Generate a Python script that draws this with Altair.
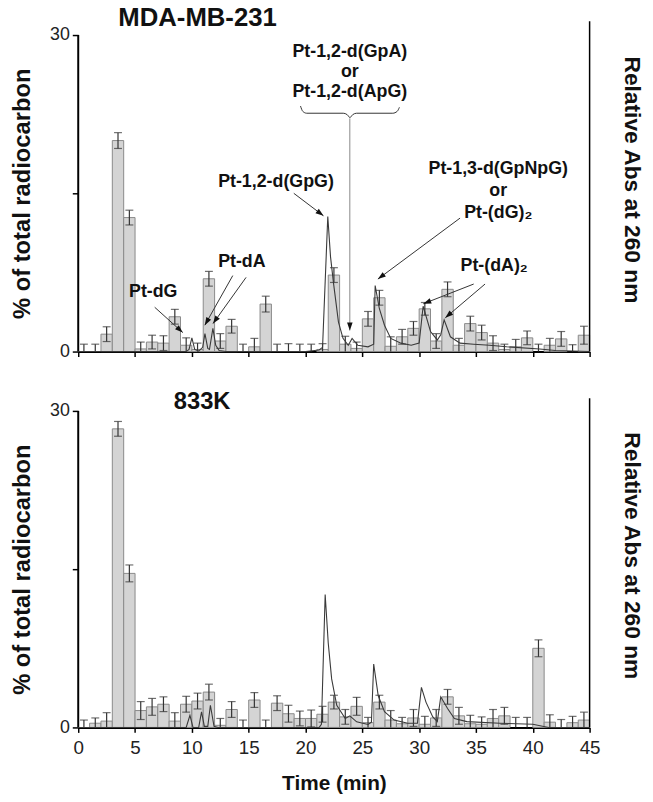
import math
import altair as alt
import pandas as pd

FONT = "Liberation Sans"
X_MAX = 45
Y_MAX = 30
W = 517
H = 320
PX_PER_MIN = W / X_MAX
PX_PER_UNIT = H / Y_MAX

# ---------------- data ----------------
bin_start = list(range(45))

mda_pct = [0, 0, 1.65, 20.0, 12.7, 0.25, 0.9, 0.8, 3.3, 0.6,
           0.2, 6.9, 1.0, 2.4, 0, 0.45, 4.5, 0, 0, 0,
           0, 0.2, 7.25, 0.7, 0.3, 3.1, 5.1, 0.5, 1.4, 2.2,
           4.05, 1.0, 5.9, 0.6, 2.65, 1.8, 0.8, 0.2, 0.45, 1.3,
           0, 0.6, 1.2, 0, 1.55]
mda_err = [0.7, 0.7, 0.7, 0.75, 0.7, 0.65, 0.65, 0.7, 0.7, 0.7,
           0.6, 0.7, 0.7, 0.65, 0.7, 0.8, 0.75, 0.7, 0.75, 0.7,
           0.7, 0.55, 0.7, 0.75, 0.6, 0.7, 0.7, 0.9, 0.7, 0.65,
           0.6, 0.7, 0.7, 0.65, 0.7, 0.7, 0.7, 0.5, 0.7, 0.65,
           0.7, 0.65, 0.7, 0.65, 0.85]

k833_pct = [0, 0.4, 0.6, 28.3, 14.6, 1.6, 1.95, 2.2, 0.6, 2.2,
            2.5, 3.35, 0.2, 1.7, 0, 2.6, 0, 2.3, 1.3, 0.85,
            0.85, 1.25, 2.4, 1.0, 2.0, 0.45, 2.4, 0.7, 0.35, 0.9,
            0.3, 0.9, 2.9, 1.1, 0.35, 0.3, 0.85, 1.1, 0, 0,
            7.5, 0.5, 0, 0.45, 0.7]
k833_err = [0.7, 0.5, 0.8, 0.7, 0.8, 0.85, 0.8, 0.7, 0.8, 0.75,
            0.75, 0.75, 0.65, 0.75, 0.7, 0.7, 0.7, 0.7, 0.8, 0.7,
            0.8, 0.75, 0.65, 0.7, 0.85, 0.5, 0.65, 0.9, 0.6, 0.8,
            0.75, 0.8, 0.7, 0.8, 0.8, 0.7, 0.85, 0.8, 0.95, 0.95,
            0.8, 0.7, 0.75, 0.6, 0.75]

mda_trace_t = [0, 9.5, 9.75, 10.0, 10.25, 10.6, 10.95, 11.15, 11.4, 11.55,
               11.85, 12.1, 12.4, 13, 20, 21.2, 21.5, 21.96, 22.2, 22.45,
               22.9, 23.3, 23.76, 24.1, 24.6, 25.5, 26.0, 26.13, 26.5, 26.95,
               27.5, 28.4, 29.3, 30.0, 30.35, 31.0, 31.6, 31.9, 32.2, 32.75,
               33.6, 34.8, 36.2, 37.7, 40.6, 42, 45]
mda_trace_abs = [0, 0, 0.2, 1.3, 0.2, 0.05, 0.4, 1.7, 0.3, 0.2,
                 2.2, 0.6, 0.1, 0, 0, 0.15, 0.4, 12.8, 9.0, 6.6,
                 2.8, 1.25, 0.6, 1.25, 0.6, 0.45, 0.7, 6.25, 4.06, 2.5,
                 1.25, 0.8, 0.6, 0.8, 4.3, 1.9, 1.1, 1.6, 3.0, 1.4,
                 0.8, 0.7, 0.6, 0.45, 0.25, 0.1, 0]

k833_trace_t = [0, 9.5, 9.83, 10.1, 10.6, 10.85, 11.1, 11.4, 11.63, 11.95,
                12.3, 21.2, 21.4, 21.73, 22.0, 22.3, 22.75, 23.5, 23.9, 24.5,
                25.5, 25.8, 26.0, 26.4, 26.95, 27.8, 29.0, 29.85, 30.2, 30.6,
                31.2, 31.6, 31.9, 32.5, 33.1, 34.2, 37.1, 40, 41.4, 45]
k833_trace_abs = [0, 0, 1.15, 0, 0, 1.47, 0.1, 0.1, 2.1, 0.1,
                  0, 0, 0.3, 12.6, 8.0, 4.6, 2.1, 0.85, 1.1, 0.53,
                  0.28, 0.5, 6.0, 3.0, 1.5, 0.7, 0.4, 0.4, 3.8, 2.4,
                  1.0, 0.55, 2.9, 1.8, 0.85, 0.55, 0.4, 0.3, 0, 0]

# annotations (top panel), in data units
note_text = ["Pt-dG", "Pt-dA", "Pt-1,2-d(GpG)", "Pt-1,2-d(GpA)", "or", "Pt-1,2-d(ApG)",
             "Pt-1,3-d(GpNpG)", "or", "Pt-(dG)\u2082", "Pt-(dA)\u2082"]
note_t = [6.6, 14.4, 17.4, 23.9, 23.9, 23.9, 36.96, 36.96, 36.96, 36.6]
note_v = [5.6, 8.5, 16.1, 28.4, 26.45, 24.55, 17.3, 15.2, 13.1, 8.1]

arrow_t1 = [6.73, 13.6, 14.77, 18.97, 33.6, 34.8, 35.8]
arrow_v1 = [4.2, 7.2, 7.03, 15.0, 12.65, 6.4, 6.4]
arrow_t2 = [9.2, 11.14, 11.86, 21.58, 26.37, 30.37, 32.3]
arrow_v2 = [1.8, 2.5, 2.65, 12.87, 6.87, 4.53, 3.2]

pointer_t = [23.9]
pointer_v1 = [22.1]
pointer_v2 = [2.0]

brace_t = [19.56, 19.76, 20.1, 23.32, 23.67, 23.91, 24.15, 24.5, 27.68, 28.07, 28.26]
brace_v = [23.27, 22.77, 22.59, 22.59, 22.45, 22.18, 22.45, 22.59, 22.59, 22.77, 23.15]

panel_titles = ["MDA-MB-231", "833K"]
panel_title_t = [10.5, 10.9]
panel_title_v = [31.6, 30.8]
panel_title_size = [26, 24]
right_axis_top = [31.3, 31.2]

# ---------------- helpers ----------------
xs = alt.Scale(domain=[0, X_MAX], nice=False, zero=False, padding=0)
ys = alt.Scale(domain=[0, Y_MAX], nice=False, zero=True, padding=0)


def bars_df(pct, err):
    return pd.DataFrame({
        "start": bin_start,
        "end": [b + 1 for b in bin_start],
        "mid": [b + 0.5 for b in bin_start],
        "pct": pct,
        "zero": [0.0] * len(pct),
        "lo": [max(0.0, p - e) for p, e in zip(pct, err)],
        "hi": [p + e for p, e in zip(pct, err)],
    })


def arrow_heads(t1, v1, t2, v2):
    rows = []
    for a, b, c, d in zip(t1, v1, t2, v2):
        dx = (c - a) * PX_PER_MIN
        dy = -(d - b) * PX_PER_UNIT
        L = math.hypot(dx, dy)
        ux, uy = dx / L, dy / L
        ang = math.degrees(math.atan2(ux, -uy)) % 360
        back = 4.0
        cx = c - ux * back / PX_PER_MIN
        cy = d + uy * back / PX_PER_UNIT
        rows.append({"t": cx, "v": cy, "angle": ang})
    return pd.DataFrame(rows)


def X(f):
    return alt.X(f, scale=xs)


def Y(f):
    return alt.Y(f, scale=ys)


def panel(pct, err, tt, ta, x_axis, idx, annotated):
    df = bars_df(pct, err)
    base = alt.Chart(df)
    y_left = alt.Axis(values=[0, 15, 30], labelExpr="datum.value == 15 ? '' : datum.label",
                      title="% of total radiocarbon", titleFontSize=24, titleFontWeight="bold",
                      titleColor="#111", tickSize=6, tickColor="black", tickWidth=1.5,
                      domain=False, labelFontSize=18, labelColor="#222", labelFlush=False,
                      labelPadding=3, titlePadding=15, grid=False)
    bars = base.transform_filter("datum.pct > 0").mark_bar(
        fill="#d4d4d4", stroke="#8a8a8a", strokeWidth=1, orient="vertical").encode(
        x=alt.X("start:Q", scale=xs, axis=x_axis),
        x2="end:Q",
        y=alt.Y("pct:Q", scale=ys, axis=y_left),
        y2="zero:Q",
    )
    err_rule = base.mark_rule(color="#333", strokeWidth=1.2).encode(
        x=X("mid:Q"), y=Y("lo:Q"), y2="hi:Q")
    cap_hi = base.mark_tick(orient="horizontal", size=8, thickness=1.2, color="#333").encode(
        x=X("mid:Q"), y=Y("hi:Q"))
    cap_lo = base.transform_filter("datum.lo > 0").mark_tick(
        orient="horizontal", size=8, thickness=1.2, color="#333").encode(
        x=X("mid:Q"), y=Y("lo:Q"))

    axis_df = pd.DataFrame({"t": [0, X_MAX], "v": [0, 0], "v2": [Y_MAX, right_axis_top[idx]],
                            "w": [2.0, 1.5]})
    axes_lines = alt.Chart(axis_df).mark_rule(color="black").encode(
        x=X("t:Q"), y=Y("v:Q"), y2="v2:Q",
        strokeWidth=alt.StrokeWidth("w:Q", scale=None))

    title_df = pd.DataFrame({"t": [panel_title_t[idx]], "v": [panel_title_v[idx]],
                             "txt": [panel_titles[idx]]})
    title = alt.Chart(title_df).mark_text(fontSize=panel_title_size[idx], fontWeight="bold",
                                          align="center", baseline="middle", color="#111").encode(
        x=X("t:Q"), y=Y("v:Q"), text="txt:N")

    layers = [bars, err_rule, cap_hi, cap_lo, axes_lines, title]
    if annotated:
        nd = pd.DataFrame({"t": note_t, "v": note_v, "txt": note_text})
        notes = alt.Chart(nd).mark_text(fontSize=18, fontWeight="bold", align="center",
                                        baseline="middle", color="#111").encode(
            x=X("t:Q"), y=Y("v:Q"), text="txt:N")
        ad = pd.DataFrame({"t1": arrow_t1, "v1": arrow_v1, "t2": arrow_t2, "v2": arrow_v2})
        arrows = alt.Chart(ad).mark_rule(color="#333", strokeWidth=1).encode(
            x=X("t1:Q"), y=Y("v1:Q"), x2="t2:Q", y2="v2:Q")
        pdf = pd.DataFrame({"t": pointer_t, "v1": pointer_v1, "v2": pointer_v2})
        pointer = alt.Chart(pdf).mark_rule(color="#888", strokeWidth=1).encode(
            x=X("t:Q"), y=Y("v1:Q"), y2="v2:Q")
        bd = pd.DataFrame({"t": brace_t, "v": brace_v, "o": list(range(len(brace_t)))})
        brace = alt.Chart(bd).mark_line(color="#333", strokeWidth=1, interpolate="monotone").encode(
            x=X("t:Q"), y=Y("v:Q"), order="o:Q")
        hd = arrow_heads(arrow_t1 + pointer_t, arrow_v1 + pointer_v1,
                         arrow_t2 + pointer_t, arrow_v2 + pointer_v2)
        heads = alt.Chart(hd).mark_point(shape="M0,-1L-0.7,1L0.7,1Z", size=64, filled=True,
                                         color="#111", opacity=1).encode(
            x=X("t:Q"), y=Y("v:Q"), angle=alt.Angle("angle:Q", scale=None))
        layers += [pointer, brace, arrows, heads, notes]
    inner = alt.layer(*layers)

    trace_df = pd.DataFrame({"t": tt, "a": ta})
    trace = alt.Chart(trace_df).mark_line(color="#3a3a3a", strokeWidth=1.1).encode(
        x=X("t:Q"),
        y=alt.Y("a:Q", scale=alt.Scale(domain=[0, Y_MAX], nice=False, padding=0),
                axis=alt.Axis(orient="right", domain=False, ticks=False, labels=False,
                              title="Relative Abs at 260 nm", titleFontSize=23,
                              titleFontWeight="bold", titleColor="#111", titlePadding=30,
                              titleY=146, grid=False)))
    return alt.layer(inner, trace).resolve_scale(y="independent").properties(width=W, height=H)


top_x_axis = alt.Axis(values=list(range(0, 46, 5)), labels=False, title=None, tickSize=5,
                      tickColor="black", tickWidth=1.5, domainColor="black", domainWidth=2,
                      grid=False)
bottom_x_axis = alt.Axis(values=list(range(0, 46, 5)), title="Time (min)", tickSize=5,
                         tickColor="black", tickWidth=1.5, domainColor="black", domainWidth=2,
                         labelFontSize=19, labelColor="#222", labelPadding=6, labelFlush=False,
                         titleFontSize=21, titleFontWeight="bold", titleColor="#111",
                         titlePadding=16, grid=False)

top = panel(mda_pct, mda_err, mda_trace_t, mda_trace_abs, top_x_axis, 0, True)
bottom = panel(k833_pct, k833_err, k833_trace_t, k833_trace_abs, bottom_x_axis, 1, False)

chart = alt.vconcat(top, bottom, spacing=60, bounds="flush").properties(
    padding={"left": 2, "right": 3, "top": -8, "bottom": 0}
).configure_view(stroke=None).configure_axis(
    labelFont=FONT, titleFont=FONT
).configure_text(font=FONT)

chart.save("out.html", embed_options={"renderer": "svg", "actions": False})
